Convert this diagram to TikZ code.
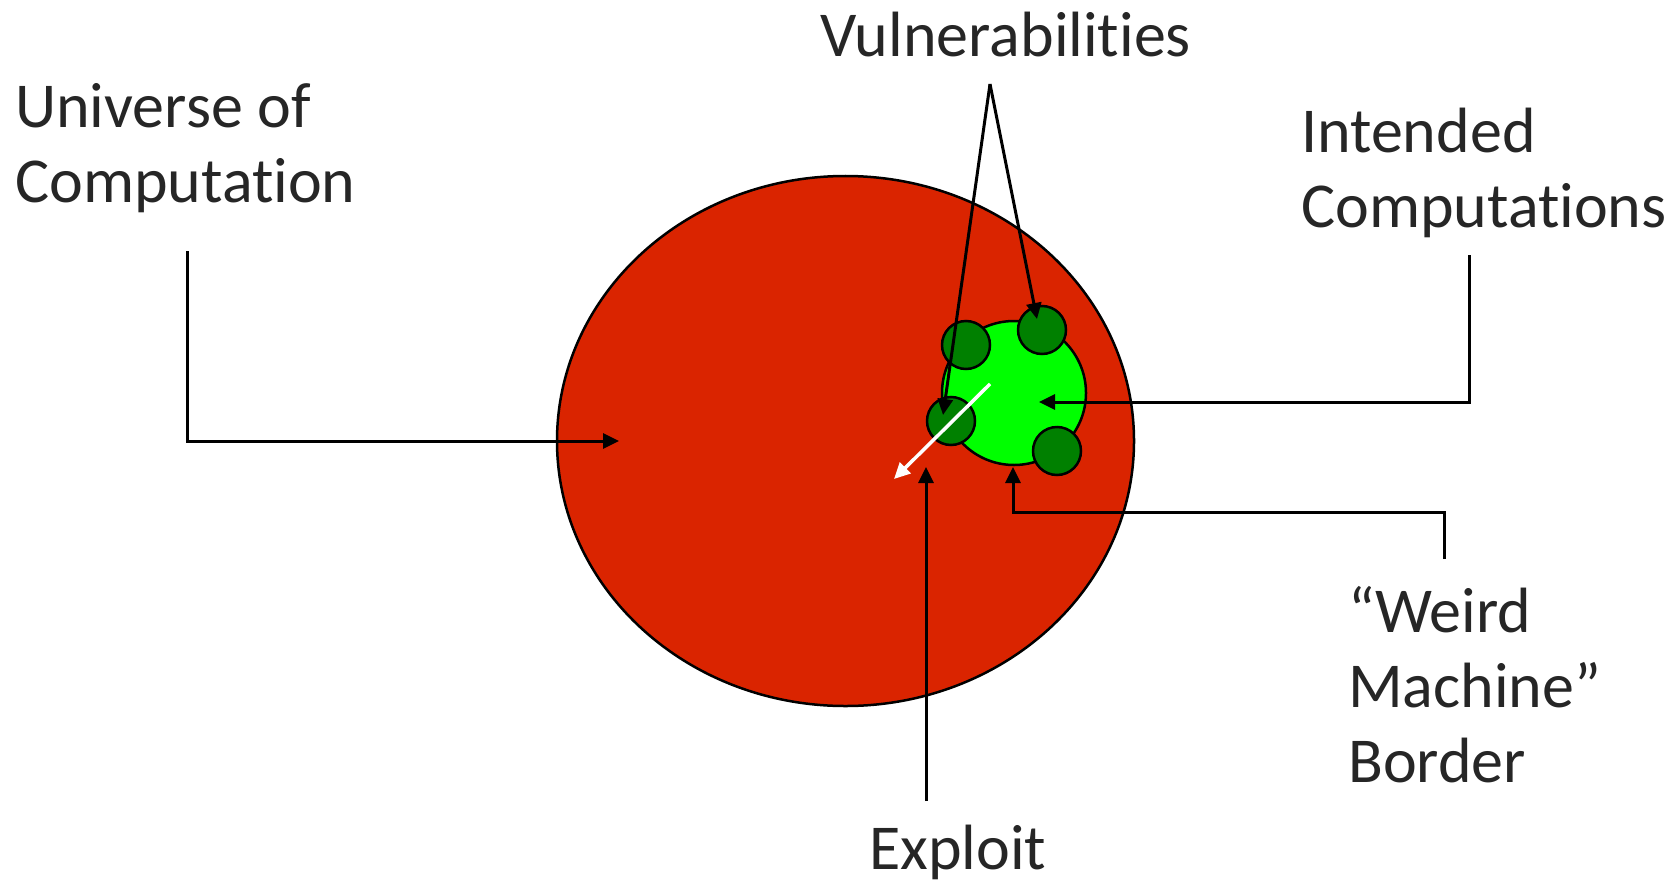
\documentclass[tikz,border=0pt]{standalone}
\usepackage{fontspec}
\setmainfont[Ligatures={NoCommon}]{Carlito}
\usetikzlibrary{positioning, arrows.meta, shapes.geometric}
\definecolor{universe}{RGB}{218,36,0}
\definecolor{intended}{RGB}{0,255,0}
\definecolor{vuln}{RGB}{0,128,0}
\definecolor{labeltext}{RGB}{38,38,38}
\tikzset{
    labeltxt/.style={anchor=base west, inner sep=0, align=left, text=labeltext,
        font=\fontsize{64bp}{75bp}\selectfont},
    pointer/.style={draw=black, line width=3bp, -{Triangle[length=16bp,width=15bp]}},
    hole/.style={circle, draw=black, line width=2.5bp, fill=vuln, minimum size=48bp, inner sep=0},
}

\begin{document}
\begin{tikzpicture}[x=1bp, y=-1bp]
    \useasboundingbox (0,0) rectangle (1679,880);

    % the sets
    \node (universe) [ellipse, draw=black, line width=2.5bp, fill=universe,
        minimum width=577bp, minimum height=530bp, inner sep=0] at (845.5,441) {};
    \node (intended) [circle, draw=black, line width=2.5bp, fill=intended,
        minimum size=144bp, inner sep=0] at (1014,393) {};
    \node (hole1) [hole] at (966,345) {};
    \node (hole2) [hole] at (1042,330) {};
    \node (hole3) [hole] at (951,421) {};
    \node (hole4) [hole] at (1057,451) {};

    % labels (base = last line)
    \node (unilabel) [labeltxt] at (15,202) {Universe of\\Computation};
    \node (vulnlabel) [labeltxt] at (820,56) {Vulnerabilities};
    \node (intlabel) [labeltxt] at (1301,227) {Intended\\Computations};
    \node (weirdlabel) [labeltxt] at (1348,782) {“Weird\\Machine”\\Border};
    \node (exploitlabel) [labeltxt] at (869,869) {Exploit};

    % connector ends
    \coordinate (u0) at (187,251);
    \coordinate (utip) at (619,441);
    \coordinate (v0) at (990,84);
    \coordinate (vtip1) at (943,415);
    \coordinate (vtip2) at (1037,319);
    \coordinate (i0) at (1469,255);
    \coordinate (itip) at (1039,402);
    \coordinate (w0) at (1444,559);
    \coordinate (wtip) at (1013,467);
    \coordinate (e0) at (926,801);
    \coordinate (etip) at (926,467);
    \coordinate (x0) at (990,384);
    \coordinate (xtip) at (894,479);

    % pointers
    \draw[pointer] (u0) |- (utip);
    \draw[pointer] (v0) -- (vtip1);
    \draw[pointer] (v0) -- (vtip2);
    \draw[pointer] (i0) |- (itip);
    \draw[pointer] (w0) -- ++(0,-47) -| (wtip);
    \draw[pointer] (e0) -- (etip);
    \draw[pointer, draw=white, line width=3.5bp] (x0) -- (xtip);
\end{tikzpicture}
\end{document}
